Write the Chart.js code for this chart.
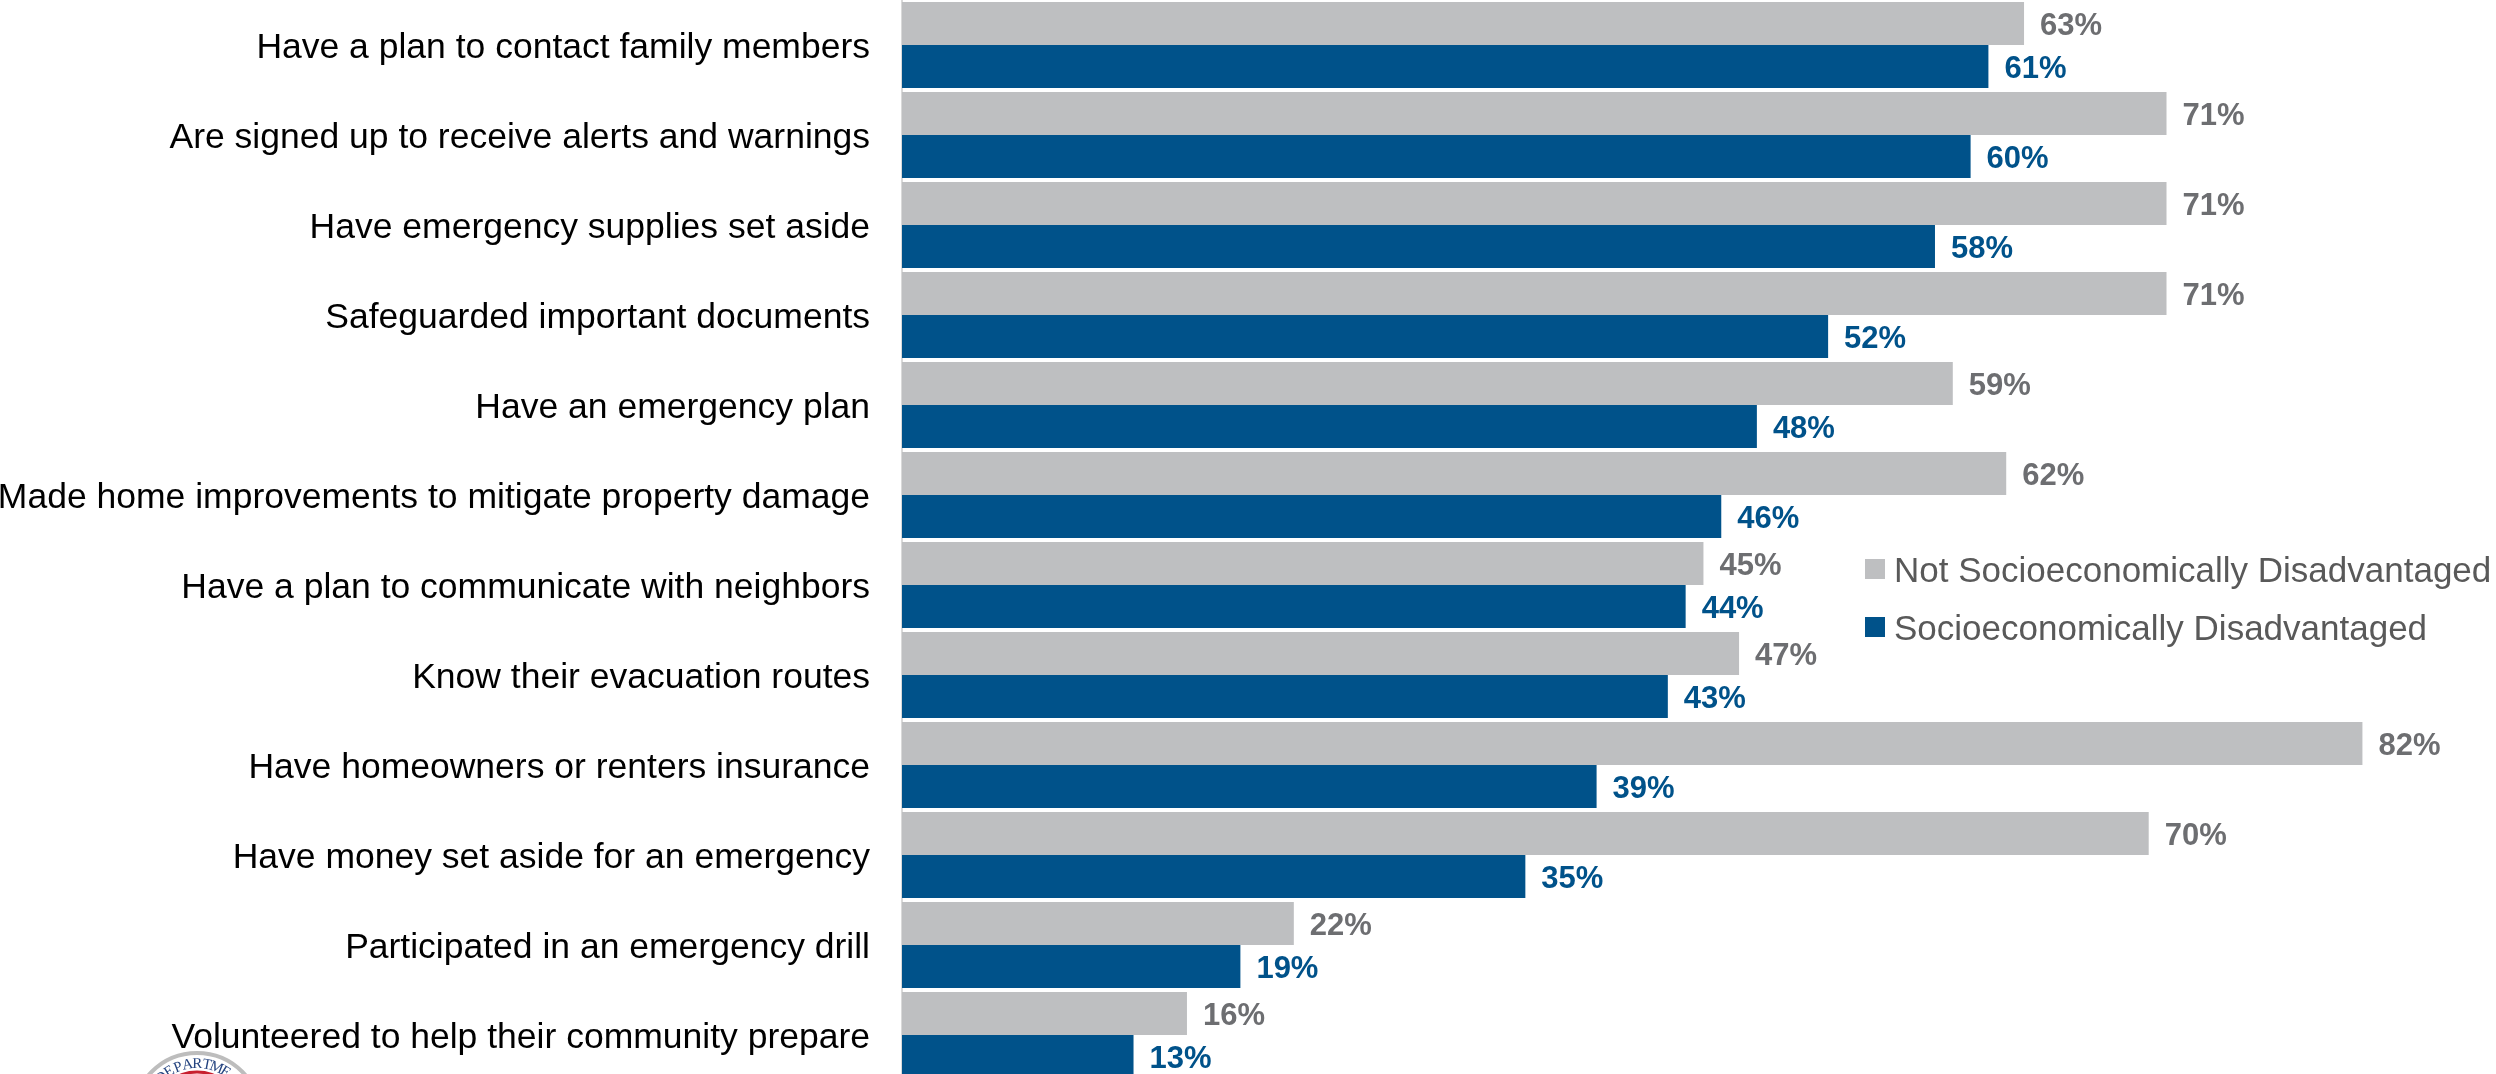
<!DOCTYPE html>
<html>
<head>
<meta charset="utf-8">
<title>Preparedness by socioeconomic status</title>
<script src="https://cdn.jsdelivr.net/npm/chart.js@4"></script>
<style>
  html, body { margin: 0; padding: 0; background: #fff; overflow: hidden; }
  #wrap { width: 2496px; height: 1074px; overflow: hidden; }
  #wrap canvas { display: block; }
</style>
</head>
<body>
<div id="wrap"><canvas id="chart" width="2496" height="1080"></canvas></div>
<script>
const categories = [
  'Have a plan to contact family members',
  'Are signed up to receive alerts and warnings',
  'Have emergency supplies set aside',
  'Safeguarded important documents',
  'Have an emergency plan',
  'Made home improvements to mitigate property damage',
  'Have a plan to communicate with neighbors',
  'Know their evacuation routes',
  'Have homeowners or renters insurance',
  'Have money set aside for an emergency',
  'Participated in an emergency drill',
  'Volunteered to help their community prepare'
];
const notDisadvantaged = [63, 71, 71, 71, 59, 62, 45, 47, 82, 70, 22, 16];
const disadvantaged = [61, 60, 58, 52, 48, 46, 44, 43, 39, 35, 19, 13];

const GREY = '#bebfc1';
const BLUE = '#00528a';
const FONT = '"Liberation Sans", Arial, sans-serif';

// value labels at the end of each bar
const valueLabels = {
  id: 'valueLabels',
  afterDatasetsDraw(chart) {
    const ctx = chart.ctx;
    ctx.save();
    ctx.font = 'bold 31px ' + FONT;
    ctx.textAlign = 'left';
    ctx.textBaseline = 'middle';
    chart.data.datasets.forEach(function (ds, i) {
      ctx.fillStyle = i === 0 ? '#6d6e71' : BLUE;
      chart.getDatasetMeta(i).data.forEach(function (bar, j) {
        ctx.fillText(ds.data[j] + '%', bar.x + 16, bar.y + 3);
      });
    });
    ctx.restore();
  }
};

// legend sits in the empty space right of the bars
const sideLegend = {
  id: 'sideLegend',
  afterDraw(chart) {
    const ctx = chart.ctx;
    ctx.save();
    ctx.font = '35px ' + FONT;
    ctx.textAlign = 'left';
    ctx.textBaseline = 'alphabetic';
    chart.data.datasets.forEach(function (ds, i) {
      const top = 559 + i * 58;
      ctx.fillStyle = ds.backgroundColor;
      ctx.fillRect(1865, top, 20, 20);
      ctx.fillStyle = '#595959';
      ctx.fillText(ds.label, 1894, top + 23);
    });
    ctx.restore();
  }
};

// top of the department seal, cut off by the bottom of the picture
const sealLetters = 'DEPARTME';
const seal = {
  id: 'seal',
  afterDraw(chart) {
    const ctx = chart.ctx;
    const cx = 197, cy = 1117;
    ctx.save();
    ctx.strokeStyle = '#bdbdbd';
    ctx.lineWidth = 4;
    ctx.beginPath();
    ctx.arc(cx, cy, 64, 0, Math.PI * 2);
    ctx.stroke();
    ctx.strokeStyle = '#c8202f';
    ctx.lineWidth = 3;
    ctx.beginPath();
    ctx.arc(cx, cy, 45, 0, Math.PI * 2);
    ctx.stroke();
    ctx.fillStyle = '#24437f';
    ctx.font = '15px "Liberation Serif", serif';
    ctx.textAlign = 'center';
    ctx.textBaseline = 'alphabetic';
    sealLetters.split('').forEach(function (ch, i) {
      const a = (-42 + i * 10.6) * Math.PI / 180;
      ctx.save();
      ctx.translate(cx + Math.sin(a) * 49, cy - Math.cos(a) * 49);
      ctx.rotate(a);
      ctx.fillText(ch, 0, 0);
      ctx.restore();
    });
    ctx.restore();
  }
};

new Chart(document.getElementById('chart'), {
  type: 'bar',
  plugins: [valueLabels, sideLegend, seal],
  data: {
    labels: categories,
    datasets: [{
      label: 'Not Socioeconomically Disadvantaged',
      data: notDisadvantaged,
      backgroundColor: GREY
    }, {
      label: 'Socioeconomically Disadvantaged',
      data: disadvantaged,
      backgroundColor: BLUE
    }]
  },
  options: {
    indexAxis: 'y',
    responsive: false,
    animation: false,
    layout: { padding: 0 },
    categoryPercentage: 0.956,
    barPercentage: 1,
    scales: {
      x: {
        display: false,
        min: 0,
        max: 89.5
      },
      y: {
        afterFit(scale) {
          scale.width = 902;
          scale.paddingTop = 0;
          scale.paddingBottom = 0;
        },
        grid: { display: false, drawTicks: false },
        border: { display: true, color: '#d9d9d9', width: 2 },
        ticks: {
          autoSkip: false,
          padding: 32,
          labelOffset: 3,
          color: '#000',
          font: { family: FONT, size: 35.5 }
        }
      }
    },
    plugins: {
      tooltip: { enabled: false },
      legend: { display: false }
    }
  }
});
</script>
</body>
</html>
